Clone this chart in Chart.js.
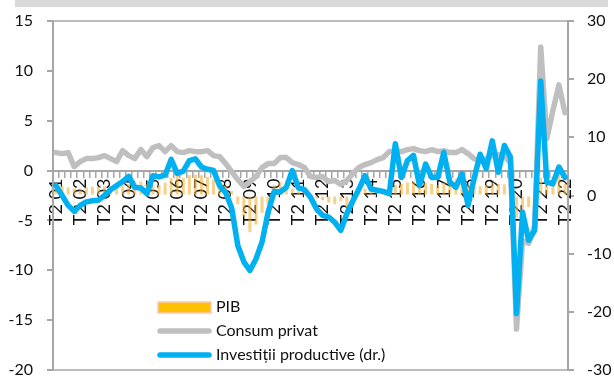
<!DOCTYPE html>
<html>
<head>
<meta charset="utf-8">
<script src="https://cdn.jsdelivr.net/npm/chart.js@4.4.1/dist/chart.umd.min.js"></script>
<style>
  html, body { margin: 0; padding: 0; background: #fff; }
  #wrap { position: relative; width: 614px; height: 376px; }
</style>
</head>
<body>
<div id="wrap"><canvas id="chart"></canvas></div>
<script>
// quarters T2 2001 .. T2 2022
const startYear = 2001;
const quarterCount = 85;
const categories = [];
for (let i = 0; i < quarterCount; i++) {
  const q = ((i + 1) % 4) + 1;
  const y = startYear + Math.floor((i + 1) / 4);
  categories.push('T' + q + ' ' + String(y).slice(2));
}

// PIB (right axis)
const pib = [
  2.0, 1.6, 1.4, 1.2, 0.9, 1.4, 1.5, 1.5, 1.6, 1.6,
  1.8, 1.8, 2.0, 2.2, 2.4, 2.0, 1.5, 1.8, 2.2, 3.0,
  3.4, 3.0, 3.5, 3.6, 3.5, 3.2, 2.8, 2.5, 1.6, 0.8,
  -1.5, -3.6, -6.3, -5.0, -3.0, -1.6, 1.8, 2.3, 1.5, 1.2,
  0.9, 0.8, 0.3, -0.5, -0.8, -1.2, -1.5, -1.0, -2.2, -1.0,
  0.5, 1.2, 1.5, 1.2, 1.0, 1.4, 1.8, 2.0, 2.2, 2.4,
  2.5, 2.2, 2.0, 1.8, 2.2, 2.6, 2.8, 2.4, 1.8, 1.5,
  1.6, 1.8, 2.2, 2.0, 1.9, 1.0, -3.8, -2.8, -2.0, -1.0,
  3.0, 2.5, 3.2, 5.3, 2.0
];

// Consum privat (left axis)
const consum = [
  1.8, 1.7, 1.8, 0.4, 0.9, 1.2, 1.2, 1.3, 1.5, 1.2,
  0.9, 2.0, 1.5, 1.2, 2.1, 1.4, 2.3, 2.5, 1.9, 2.5,
  1.9, 1.8, 2.0, 1.9, 1.9, 2.0, 1.5, 1.4, 0.7, -0.1,
  -0.9, -1.6, -1.1, -0.6, 0.3, 0.7, 0.7, 1.3, 1.3, 0.8,
  0.6, 0.3, -0.6, -0.7, -0.6, -1.1, -1.0, -1.4, -1.0, -0.3,
  0.3, 0.6, 0.8, 1.1, 1.3, 1.9, 2.0, 1.9, 2.1, 2.2,
  2.0, 1.9, 2.1, 1.9, 2.0, 1.8, 1.8, 2.1, 1.7, 1.2,
  0.9, 1.2, 1.5, 1.6, 1.4, 0.8, -15.9, -7.0, -7.3, -5.5,
  12.4, 3.2, 6.0, 8.6, 5.8
];

// Investitii productive (right axis)
const investitii = [
  1.7, 0.0, -1.7, -2.7, -1.7, -1.1, -0.9, -0.8, 0.0, 1.0,
  1.7, 2.4, 3.3, 1.4, 1.3, 0.3, 3.4, 3.2, 3.5, 6.2,
  3.8, 4.2, 6.0, 6.3, 4.9, 4.5, 4.3, 1.7, 0.5, -2.2,
  -8.6, -11.4, -12.9, -10.9, -8.0, -2.9, 0.7, 0.6, 1.4, 4.3,
  1.3, 1.0, -0.3, -2.3, -3.4, -3.7, -4.6, -6.0, -3.1, -0.9,
  1.1, 3.4, 1.1, 0.9, 0.7, 0.3, 8.9, 3.1, 6.0, 6.9,
  1.7, 5.4, 3.1, 3.1, 7.4, 2.3, 1.4, 3.7, -1.7, 2.9,
  7.1, 4.6, 9.4, 4.0, 8.6, 6.6, -20.3, -2.9, -7.7, -6.0,
  19.7, 2.3, 2.0, 4.9, 3.1
];

const leftTicks = [15, 10, 5, 0, -5, -10, -15, -20];
const rightTicks = [30, 20, 10, 0, -10, -20, -30];

const FONT = { family: 'Lato', size: 16 };
const XFONT = { family: 'Lato', size: 18 };
const TEXT = '#111111';
const AXIS = '#a6a6a6';

const framePlugin = {
  id: 'frame',
  beforeDraw(chart) {
    const { ctx, chartArea: a } = chart;
    ctx.save();
    ctx.fillStyle = '#d9d9d9';
    ctx.fillRect(15, 0, 593, 7);
    ctx.strokeStyle = AXIS;
    ctx.lineWidth = 1.5;
    ctx.beginPath();
    ctx.moveTo(a.left, a.top); ctx.lineTo(a.right, a.top);
    ctx.moveTo(a.left, a.bottom); ctx.lineTo(a.right, a.bottom);
    ctx.stroke();
    ctx.restore();
  }
};

// legend inside the plot, lower left
const legendPlugin = {
  id: 'innerLegend',
  afterDraw(chart) {
    const { ctx } = chart;
    const x0 = 158, swatchW = 53, y0 = 307, rowH = 24;
    ctx.save();
    ctx.font = FONT.size + 'px ' + FONT.family;
    ctx.textBaseline = 'middle';
    chart.data.datasets.forEach((ds, i) => {
      const y = y0 + i * rowH;
      if (ds.type === 'bar') {
        ctx.fillStyle = '#ffc000';
        ctx.fillRect(x0, y - 5, swatchW, 11);
        ctx.strokeStyle = '#f8cbad';
        ctx.lineWidth = 1.5;
        ctx.strokeRect(x0, y - 5, swatchW, 11);
      } else {
        ctx.strokeStyle = ds.borderColor;
        ctx.lineWidth = ds.borderWidth;
        ctx.lineCap = 'round';
        ctx.beginPath();
        ctx.moveTo(x0 + 2, y); ctx.lineTo(x0 + swatchW - 2, y);
        ctx.stroke();
      }
      ctx.fillStyle = TEXT;
      ctx.fillText(ds.label, x0 + swatchW + 5, y);
    });
    ctx.restore();
  }
};

new Chart(document.getElementById('chart'), {
  data: {
    labels: categories,
    datasets: [
      {
        type: 'bar',
        label: 'PIB',
        data: pib,
        yAxisID: 'y1',
        backgroundColor: 'rgba(240,170,40,0.55)',
        categoryPercentage: 1,
        barPercentage: 0.5,
        order: 3
      },
      {
        type: 'line',
        label: 'Consum privat',
        data: consum,
        yAxisID: 'y',
        borderColor: '#bfbfbf',
        borderWidth: 5.5,
        pointRadius: 0,
        borderJoinStyle: 'round',
        borderCapStyle: 'round',
        tension: 0,
        order: 2
      },
      {
        type: 'line',
        label: 'Investiții productive (dr.)',
        data: investitii,
        yAxisID: 'y1',
        borderColor: '#00b0f0',
        borderWidth: 5.5,
        pointRadius: 0,
        borderJoinStyle: 'round',
        borderCapStyle: 'round',
        tension: 0,
        order: 1
      }
    ]
  },
  options: {
    responsive: true,
    maintainAspectRatio: false,
    animation: false,
    layout: { padding: { top: 21, bottom: 6, left: 0, right: 0 } },
    plugins: { legend: { display: false }, tooltip: { enabled: false } },
    scales: {
      x: {
        type: 'category',
        position: { y: 0 },
        offset: true,
        grid: {
          offset: true,
          drawOnChartArea: false,
          drawTicks: true,
          tickLength: 6,
          color: AXIS,
          lineWidth: 1.5
        },
        border: { display: true, color: AXIS, width: 2 },
        ticks: {
          autoSkip: false,
          minRotation: 90,
          maxRotation: 90,
          padding: 2,
          color: TEXT,
          font: XFONT,
          callback: (v, i) => (i % 4 === 0 ? categories[i] : '')
        }
      },
      y: {
        position: 'left',
        min: -20,
        max: 15,
        afterBuildTicks: (s) => { s.ticks = leftTicks.map(v => ({ value: v })); },
        afterFit: (s) => { s.width = 53; s.paddingTop = 0; s.paddingBottom = 0; },
        grid: { drawOnChartArea: false, tickLength: 6, color: AXIS, lineWidth: 2 },
        border: { color: AXIS, width: 2 },
        ticks: { padding: 14, color: TEXT, font: FONT }
      },
      y1: {
        position: 'right',
        min: -30,
        max: 30,
        afterBuildTicks: (s) => { s.ticks = rightTicks.map(v => ({ value: v })); },
        afterFit: (s) => { s.width = 46; s.paddingTop = 0; s.paddingBottom = 0; },
        grid: { drawOnChartArea: false, tickLength: 6, color: AXIS, lineWidth: 2 },
        border: { color: AXIS, width: 2 },
        ticks: { padding: 13, color: TEXT, font: FONT }
      }
    }
  },
  plugins: [framePlugin, legendPlugin]
});
</script>
</body>
</html>
